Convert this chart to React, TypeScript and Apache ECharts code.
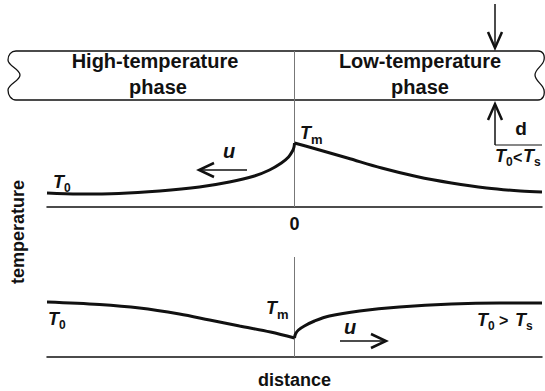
import React, { useEffect, useRef } from "react";
import * as echarts from "echarts";

// ---- data (distance: -100..100, 0 = interface; temperature in arbitrary units) ----
const upperLeftX = [-100, -87, -71, -54.5, -38.4, -26.3, -16.2, -10.1, -5.3, -2.4, -0.8, -0.2, 0];
const upperLeftT = [14, 13, 13.5, 16, 20, 25, 31, 37, 44, 50, 56, 60, 64];
const upperRightX = [0, 7.3, 21.4, 35.2, 49.3, 63.4, 77.6, 91.3, 100];
const upperRightT = [64, 59, 49, 39, 30.5, 24, 19, 16, 15];

const lowerLeftX = [-100, -78.8, -62.6, -46.5, -34.3, -22.2, -9.7, 0];
const lowerLeftT = [55, 52.5, 49, 43, 37, 31, 25, 19];
const lowerRightX = [0, 0.4, 1.6, 4, 8.1, 14.1, 26.3, 42.4, 63.4, 82.8, 100];
const lowerRightT = [19, 23, 27, 31, 36, 41, 46, 50, 53, 54, 54];

const xTickValues = [0];
const phaseLabels = ["High-temperature", "Low-temperature"];
const phaseWord = "phase";
const xAxisName = "distance";
const yAxisName = "temperature";

const zip = (xs: number[], ys: number[]) => xs.map((x, i) => [x, ys[i]]);

const FONT = "'Liberation Sans', Arial, Helvetica, sans-serif";
const INK = "#111";

const barPath =
  "M 16 51 L 538 51 C 543 51 545 55 544 60 C 543 66 535 69 535 75 C 535 81 543 84 544 90 C 545 95 543 100 538 100 " +
  "L 16 100 C 11 100 8 95 8 90 C 8 84 20 81 20 75 C 20 69 8 66 8 60 C 8 55 11 51 16 51 Z";
echarts.graphic.registerShape("phaseBar", echarts.graphic.extendPath(barPath, {}) as any);

function txt(text: string, x: number, y: number, size: number, opts: any = {}) {
  const align = opts.align || "center";
  return {
    type: "text",
    x,
    y,
    rotation: opts.rotation || 0,
    silent: true,
    style: {
      text,
      fontSize: size,
      fontFamily: FONT,
      fontStyle: opts.italic ? "italic" : "normal",
      fontWeight: opts.light ? "normal" : "bold",
      fill: INK,
      align,
      textAlign: align,
      verticalAlign: "middle",
      textVerticalAlign: "middle",
    },
  };
}

// italic T with subscript
function tSym(x: number, y: number, sub: string, subSize = 12) {
  return [
    txt("T", x, y, 18, { italic: true, align: "left" }),
    txt(sub, x + 11, y + 6, subSize, { align: "left" }),
  ];
}

function line(x1: number, y1: number, x2: number, y2: number, w = 1.5) {
  return { type: "line", silent: true, shape: { x1, y1, x2, y2 }, style: { stroke: INK, lineWidth: w } };
}
function head(points: number[][]) {
  return {
    type: "polyline",
    silent: true,
    shape: { points },
    style: { stroke: INK, lineWidth: 2.5, fill: null, lineJoin: "miter" },
  };
}

const curveStyle = { color: INK, width: 3 };

const baseSeries = {
  type: "line",
  symbol: "none",
  smooth: 0.35,
  lineStyle: curveStyle,
  z: 3,
};
const dividerLine = {
  silent: true,
  symbol: "none",
  label: { show: false },
  lineStyle: { color: "#777", width: 1, type: "solid" },
  data: [{ xAxis: 0 }],
  z: 1,
};

const option: any = {
  animation: false,
  backgroundColor: "#fff",
  grid: [
    { left: 47, right: 3, top: 51, height: 156 },
    { left: 47, right: 3, top: 257, height: 100 },
  ],
  xAxis: [
    {
      gridIndex: 0,
      type: "value",
      min: -100,
      max: 100,
      axisLine: { show: true, onZero: false, lineStyle: { color: INK, width: 1.5 } },
      axisTick: { show: false },
      splitLine: { show: false },
      axisLabel: {
        customValues: xTickValues,
        fontSize: 18,
        fontWeight: "bold",
        color: INK,
        margin: 8,
        fontFamily: FONT,
      },
    },
    {
      gridIndex: 1,
      type: "value",
      min: -100,
      max: 100,
      axisLine: { show: true, onZero: false, lineStyle: { color: INK, width: 1.5 } },
      axisTick: { show: false },
      splitLine: { show: false },
      axisLabel: { show: false },
      name: xAxisName,
      nameLocation: "middle",
      nameGap: 14,
      nameTextStyle: { fontSize: 18, fontWeight: "bold", color: INK, fontFamily: FONT },
    },
  ],
  yAxis: [
    { gridIndex: 0, type: "value", min: 0, max: 156, show: false },
    { gridIndex: 1, type: "value", min: 0, max: 100, show: false },
  ],
  series: [
    { ...baseSeries, xAxisIndex: 0, yAxisIndex: 0, data: zip(upperLeftX, upperLeftT), markLine: dividerLine },
    { ...baseSeries, xAxisIndex: 0, yAxisIndex: 0, data: zip(upperRightX, upperRightT) },
    { ...baseSeries, xAxisIndex: 1, yAxisIndex: 1, data: zip(lowerLeftX, lowerLeftT), markLine: dividerLine },
    { ...baseSeries, xAxisIndex: 1, yAxisIndex: 1, data: zip(lowerRightX, lowerRightT) },
  ],
  graphic: [
    {
      type: "phaseBar",
      x: 0,
      y: 0,
      silent: true,
      style: { fill: "none", stroke: INK, lineWidth: 1.3 },
    },
    txt(phaseLabels[0], 155, 61, 20),
    txt(phaseWord, 158, 87, 20),
    txt(phaseLabels[1], 420, 61, 20),
    txt(phaseWord, 420, 87, 20),
    // thickness arrows
    line(495, 4, 495, 48),
    head([[488, 32], [495, 48], [502, 32]]),
    line(495, 104, 495, 145),
    head([[488, 120], [495, 104], [502, 120]]),
    line(495, 145, 542, 145, 1.2),
    txt("d", 521, 128, 19),
    // upper panel
    ...tSym(300, 133, "m", 13),
    txt("u", 229, 151, 20, { italic: true }),
    line(199, 170, 247, 170),
    head([[214, 163], [199, 170], [214, 177]]),
    ...tSym(53, 182, "0"),
    ...tSym(495, 156, "0"),
    txt("<", 513, 157, 16, { align: "left" }),
    ...tSym(523, 156, "s"),
    // lower panel
    ...tSym(48, 319, "0"),
    ...tSym(266, 308, "m", 13),
    txt("u", 350, 327, 20, { italic: true }),
    line(340, 341, 385, 341),
    head([[371, 334], [386, 341], [371, 348]]),
    ...tSym(477, 320, "0"),
    txt(">", 499, 320, 16, { align: "left" }),
    ...tSym(515, 320, "s"),
    // y axis name
    txt(yAxisName, 18, 232, 18, { rotation: Math.PI / 2 }),
  ],
};

export default function App() {
  const ref = useRef<HTMLDivElement>(null);
  useEffect(() => {
    const chart = echarts.init(ref.current!, null, { renderer: "svg" });
    chart.setOption(option);
    return () => chart.dispose();
  }, []);
  return (
    <div
      ref={ref}
      style={{ position: "fixed", left: 0, top: 0, width: 545, height: 391, background: "#fff" }}
    />
  );
}
